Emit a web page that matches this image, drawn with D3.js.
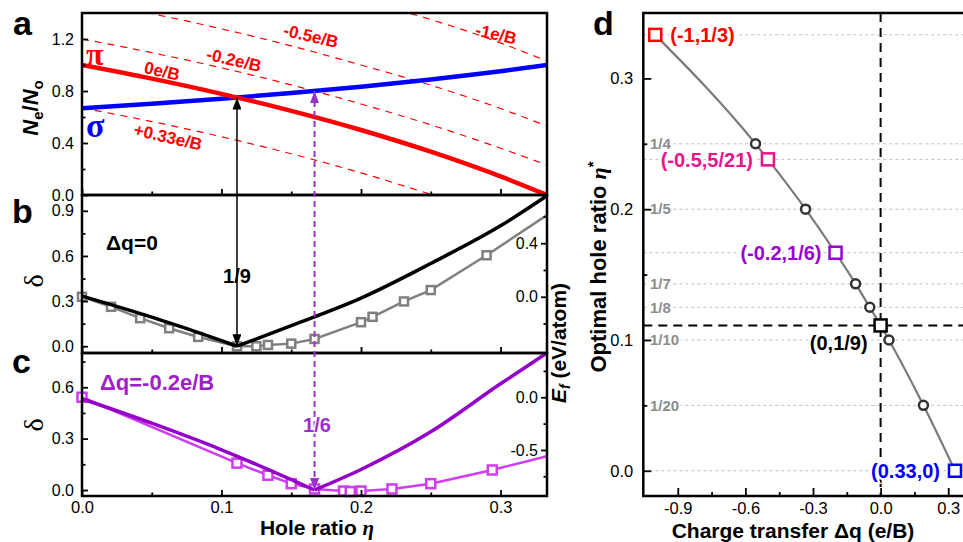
<!DOCTYPE html>
<html>
<head>
<meta charset="utf-8">
<script src="https://cdn.jsdelivr.net/npm/d3@7"></script>
<style>
  body { margin: 0; background: #fff; }
  svg { font-family: "Liberation Sans", Arial, sans-serif; }
  .tick text { fill: #000; }
</style>
</head>
<body>
<svg id="fig" width="963" height="542"></svg>
<script>
const svg = d3.select('#fig');

// ---- panel a: electrons per orbital vs hole ratio
const eta = [0, 0.05, 0.1, 0.15, 0.2, 0.25, 0.3, 0.3333];
const piCount = [1.0, 0.895, 0.778, 0.647, 0.5, 0.333, 0.143, 0.0];
const sigmaCount = [0.667, 0.702, 0.741, 0.784, 0.833, 0.889, 0.952, 1.0];
const piShiftM1 = [2.0, 1.895, 1.778, 1.647, 1.5, 1.35, 1.17, 1.03];
const piShiftM05 = [1.5, 1.395, 1.278, 1.147, 1.0, 0.845, 0.665, 0.53];
const piShiftM02 = [1.2, 1.095, 0.978, 0.847, 0.7, 0.54, 0.36, 0.23];
const piShiftP033 = [0.67, 0.565, 0.448, 0.317, 0.17, 0.005];

// ---- panel b: dq = 0
const etaB = [0, 0.05, 0.1, 0.1111, 0.15, 0.2, 0.25, 0.3, 0.3333];
const deltaB = [0.333, 0.193, 0.037, 0, 0.137, 0.32, 0.55, 0.8, 1.0];
const efEtaB = [0, 0.0208, 0.0417, 0.0625, 0.0833, 0.1111, 0.125, 0.1333, 0.15, 0.1667, 0.2, 0.2083, 0.2308, 0.25, 0.29, 0.3333];
const efB = [0.0, -0.075, -0.16, -0.235, -0.30, -0.37, -0.37, -0.36, -0.35, -0.315, -0.19, -0.15, -0.035, 0.05, 0.31, 0.61];

// ---- panel c: dq = -0.2 e/B
const etaC = [0, 0.05, 0.1, 0.1667, 0.2, 0.25, 0.3, 0.3333];
const deltaC = [0.533, 0.39, 0.235, 0, 0.12, 0.34, 0.62, 0.8];
const efEtaC = [0, 0.1111, 0.1333, 0.15, 0.1667, 0.1875, 0.1923, 0.2, 0.2222, 0.25, 0.2941, 0.3333];
const efC = [0.0, -0.625, -0.74, -0.82, -0.87, -0.89, -0.895, -0.89, -0.87, -0.82, -0.69, -0.56];

// ---- panel d: optimal hole ratio vs charge transfer
const keyDq = [-1, -0.5, -0.2, 0, 0.33];
const keyEta = [0.3333, 0.2381, 0.1667, 0.1111, 0];
const keyLabels = ['(-1,1/3)', '(-0.5,5/21)', '(-0.2,1/6)', '(0,1/9)', '(0.33,0)'];
const keyColors = ['#ff0000', '#e8148c', '#9b00d3', '#000000', '#0000ff'];
const otherDq = [-0.555, -0.333, -0.111, -0.048, 0.037, 0.19];
const otherEta = [0.25, 0.2, 0.1429, 0.125, 0.1, 0.05];
const gridEta = [0.3333, 0.25, 0.2381, 0.2, 0.1667, 0.1429, 0.125, 0.1, 0.05, 0];
const gridTags = ['1/4', '1/5', '1/7', '1/8', '1/10', '1/20'];
const gridTagEta = [0.25, 0.2, 0.1429, 0.125, 0.1, 0.05];

const num = (d) => d.toFixed(1);

// scales for the stacked left panels
const x = d3.scaleLinear().domain([0, 1 / 3]).range([82, 547]);
const yA = d3.scaleLinear().domain([0, 1.4]).range([195, 13]);
const yB = d3.scaleLinear().domain([-0.045, 1.005]).range([353, 195]);
const eB = d3.scaleLinear().domain([-0.42, 0.76]).range([353, 195]);
const yC = d3.scaleLinear().domain([-0.035, 0.8]).range([496, 353]);
const eC = d3.scaleLinear().domain([-0.937, 0.42]).range([496, 353]);

// panel d scales
const xD = d3.scaleLinear().domain([-1.053, 0.37]).range([643.3, 964]);
const yD = d3.scaleLinear().domain([-0.0193, 0.35]).range([496, 13]);

const defs = svg.append('defs');
defs.append('clipPath').attr('id', 'clipA')
  .append('rect').attr('x', 82).attr('y', 13).attr('width', 465).attr('height', 182);

function arrowHead(id, color) {
  defs.append('marker').attr('id', id)
    .attr('viewBox', '0 0 12 9').attr('refX', 12).attr('refY', 4.5)
    .attr('markerWidth', 12).attr('markerHeight', 9)
    .attr('markerUnits', 'userSpaceOnUse').attr('orient', 'auto-start-reverse')
    .append('path').attr('d', 'M0,0 L12,4.5 L0,9 Z').attr('fill', color);
}
arrowHead('ahK', '#000');
arrowHead('ahP', '#9932cc');

const zip = (a, b) => a.map((v, i) => [v, b[i]]);

function drawLine(g, xs, ys, sx, sy, color, width, dash, curve) {
  g.append('path')
    .datum(zip(xs, ys))
    .attr('fill', 'none')
    .attr('stroke', color)
    .attr('stroke-width', width)
    .attr('stroke-dasharray', dash)
    .attr('d', d3.line().x((d) => sx(d[0])).y((d) => sy(d[1])).curve(curve || d3.curveMonotoneX));
}

// V-shaped delta curve: draw both arms so the kink stays sharp
function drawVee(g, xs, ys, sx, sy, color, width) {
  const k = ys.indexOf(0);
  drawLine(g, xs.slice(0, k + 1), ys.slice(0, k + 1), sx, sy, color, width);
  drawLine(g, xs.slice(k), ys.slice(k), sx, sy, color, width);
}

function squares(g, xs, ys, sx, sy, color, size, width) {
  g.selectAll(null).data(zip(xs, ys)).join('rect')
    .attr('x', (d) => sx(d[0]) - size / 2).attr('y', (d) => sy(d[1]) - size / 2)
    .attr('width', size).attr('height', size)
    .attr('fill', '#fff').attr('stroke', color).attr('stroke-width', width);
}

function axisStyle(g, size) {
  g.select('.domain').remove();
  g.selectAll('.tick line').attr('stroke', '#000').attr('stroke-width', 1.8);
  g.selectAll('.tick text').style('font-size', size + 'px');
}

function leftAxis(scale, major, minor, xPos, labels) {
  const g = svg.append('g').attr('transform', `translate(${xPos},0)`)
    .call(d3.axisLeft(scale).tickValues(major).tickSize(-6).tickPadding(8).tickFormat(labels ? num : ''));
  axisStyle(g, 16);
  const m = svg.append('g').attr('transform', `translate(${xPos},0)`)
    .call(d3.axisLeft(scale).tickValues(minor).tickSize(-3.5).tickFormat(''));
  axisStyle(m, 16);
}

function bottomAxis(yPos, labels) {
  const g = svg.append('g').attr('transform', `translate(0,${yPos})`)
    .call(d3.axisBottom(x).tickValues([0, 0.1, 0.2, 0.3]).tickSize(-6).tickPadding(5).tickFormat(labels ? num : ''));
  axisStyle(g, 16.5);
  const m = svg.append('g').attr('transform', `translate(0,${yPos})`)
    .call(d3.axisBottom(x).tickValues([0.05, 0.15, 0.25]).tickSize(-3.5).tickFormat(''));
  axisStyle(m, 16.5);
}

// right E_f axes, ticks and labels inside the frame
function rightAxis(scale, major, minor) {
  const g = svg.append('g').attr('transform', 'translate(547,0)')
    .call(d3.axisLeft(scale).tickValues(major).tickSize(6).tickPadding(3).tickFormat(num));
  axisStyle(g, 16);
  const m = svg.append('g').attr('transform', 'translate(547,0)')
    .call(d3.axisLeft(scale).tickValues(minor).tickSize(3.5).tickFormat(''));
  axisStyle(m, 16);
}

// ================= panel a =================
const gA = svg.append('g').attr('clip-path', 'url(#clipA)');
[piShiftM1, piShiftM05, piShiftM02].forEach((s) =>
  drawLine(gA, eta, s, x, yA, '#ff0000', 1.2, '7,6'));
drawLine(gA, eta.slice(0, piShiftP033.length), piShiftP033, x, yA, '#ff0000', 1.2, '7,6');
drawLine(gA, eta, sigmaCount, x, yA, '#0000ff', 4.5);
drawLine(gA, eta, piCount, x, yA, '#ff0000', 4.5);

const redTag = (t, cx, cy) => svg.append('text')
  .attr('transform', `translate(${cx},${cy}) rotate(13)`)
  .attr('text-anchor', 'middle').attr('dy', '0.35em')
  .style('font-size', '17px').style('font-weight', 'bold').attr('fill', '#ff0000').text(t);
redTag('0e/B', 162, 71);
redTag('-0.2e/B', 234, 60);
redTag('-0.5e/B', 311, 36);
redTag('-1e/B', 496, 34);
redTag('+0.33e/B', 168, 137);

svg.append('text').attr('x', 86).attr('y', 65).attr('fill', '#ff0000')
  .style('font-family', '"Liberation Serif", serif').style('font-size', '32px').style('font-weight', 'bold').text('π');
svg.append('text').attr('x', 86).attr('y', 137).attr('fill', '#0000ff')
  .style('font-family', '"Liberation Serif", serif').style('font-size', '34px').style('font-weight', 'bold').text('σ');

leftAxis(yA, [0, 0.4, 0.8, 1.2], [0.2, 0.6, 1.0], 82, true);
bottomAxis(195, false);

const labA = svg.append('text').attr('transform', 'translate(38,108) rotate(-90)')
  .attr('text-anchor', 'middle').style('font-size', '22px').style('font-weight', 'bold');
labA.append('tspan').style('font-style', 'italic').text('N');
labA.append('tspan').attr('dy', 5).style('font-size', '15px').text('e');
labA.append('tspan').attr('dy', -5).text('/');
labA.append('tspan').style('font-style', 'italic').text('N');
labA.append('tspan').attr('dy', 5).style('font-size', '15px').text('o');

// ================= panel b =================
const gB = svg.append('g');
drawLine(gB, efEtaB, efB, x, eB, '#808080', 2.5, null, d3.curveLinear);
squares(gB, efEtaB.slice(0, -1), efB.slice(0, -1), x, eB, '#808080', 8, 2.5);
drawVee(gB, etaB, deltaB, x, yB, '#000', 3.5);

leftAxis(yB, [0, 0.3, 0.6, 0.9], [0.15, 0.45, 0.75], 82, true);
bottomAxis(353, false);
rightAxis(eB, [0, 0.4], [-0.2, 0.2, 0.6]);

svg.append('text').attr('transform', 'translate(43,281) rotate(-90)')
  .attr('text-anchor', 'middle').style('font-family', '"Liberation Serif", serif')
  .style('font-size', '28px').text('δ');
svg.append('text').attr('x', 106).attr('y', 250)
  .style('font-size', '21px').style('font-weight', 'bold').text('Δq=0');

// ================= panel c =================
const gC = svg.append('g');
drawLine(gC, efEtaC, efC, x, eC, '#d03cf0', 2.5, null, d3.curveLinear);
squares(gC, efEtaC.slice(0, -1), efC.slice(0, -1), x, eC, '#d03cf0', 9, 2.5);
drawVee(gC, etaC, deltaC, x, yC, '#9400c8', 3.5);

leftAxis(yC, [0, 0.3, 0.6], [0.15, 0.45, 0.75], 82, true);
bottomAxis(496, true);
rightAxis(eC, [-0.5, 0], [-0.75, -0.25, 0.25]);

svg.append('text').attr('transform', 'translate(43,425) rotate(-90)')
  .attr('text-anchor', 'middle').style('font-family', '"Liberation Serif", serif')
  .style('font-size', '28px').text('δ');
svg.append('text').attr('x', 100).attr('y', 390).attr('fill', '#a020c8')
  .style('font-size', '22px').style('font-weight', 'bold').text('Δq=-0.2e/B');

// frames of the left stack
[[13, 195], [195, 353], [353, 496]].forEach(([t, b]) =>
  svg.append('rect').attr('x', 82).attr('y', t).attr('width', 465).attr('height', b - t)
    .attr('fill', 'none').attr('stroke', '#000').attr('stroke-width', 2.5));

// arrows linking the panels
svg.append('line')
  .attr('x1', x(0.1111)).attr('x2', x(0.1111))
  .attr('y1', yA(0.75)).attr('y2', yB(0))
  .attr('stroke', '#000').attr('stroke-width', 1.5)
  .attr('marker-start', 'url(#ahK)').attr('marker-end', 'url(#ahK)');
svg.append('text').attr('x', 237).attr('y', 283).attr('text-anchor', 'middle')
  .style('font-size', '20px').style('font-weight', 'bold').text('1/9');

svg.append('line')
  .attr('x1', x(0.1667)).attr('x2', x(0.1667))
  .attr('y1', yA(0.8)).attr('y2', yC(0))
  .attr('stroke', '#9932cc').attr('stroke-width', 2).attr('stroke-dasharray', '6,4')
  .attr('marker-start', 'url(#ahP)').attr('marker-end', 'url(#ahP)');
svg.append('text').attr('x', 317).attr('y', 432).attr('text-anchor', 'middle').attr('fill', '#9932cc')
  .attr('stroke', '#fff').attr('stroke-width', 3).attr('paint-order', 'stroke')
  .style('font-size', '20px').style('font-weight', 'bold').text('1/6');

// shared right title
const labE = svg.append('text').attr('transform', 'translate(566,343) rotate(-90)')
  .attr('text-anchor', 'middle').style('font-size', '21px').style('font-weight', 'bold');
labE.append('tspan').style('font-style', 'italic').text('E');
labE.append('tspan').attr('dy', 4).style('font-size', '14px').style('font-style', 'italic').text('f');
labE.append('tspan').attr('dy', -4).text(' (eV/atom)');

const labX = svg.append('text').attr('x', 317).attr('y', 535).attr('text-anchor', 'middle')
  .style('font-size', '21px').style('font-weight', 'bold');
labX.append('tspan').text('Hole ratio ');
labX.append('tspan').style('font-style', 'italic').style('font-family', '"Liberation Serif", serif').text('η');

// panel letters
[['a', 13, 35], ['b', 12, 223], ['c', 12, 373], ['d', 593, 35]].forEach(([t, lx, ly]) =>
  svg.append('text').attr('x', lx).attr('y', ly).style('font-size', '34px').style('font-weight', 'bold').text(t));

// ================= panel d =================
const gD = svg.append('g');
gD.selectAll(null).data(gridEta).join('line')
  .attr('x1', xD.range()[0]).attr('x2', 963)
  .attr('y1', (d) => yD(d)).attr('y2', (d) => yD(d))
  .attr('stroke', '#c0c0c0').attr('stroke-width', 1).attr('stroke-dasharray', '3,3');

gD.append('line').attr('x1', xD(0)).attr('x2', xD(0)).attr('y1', 13).attr('y2', 496)
  .attr('stroke', '#000').attr('stroke-width', 2).attr('stroke-dasharray', '9,6');
gD.append('line').attr('x1', xD.range()[0]).attr('x2', 963).attr('y1', yD(0.1111)).attr('y2', yD(0.1111))
  .attr('stroke', '#000').attr('stroke-width', 2).attr('stroke-dasharray', '9,6');

gD.selectAll(null).data(gridTags).join('text')
  .attr('x', 650).attr('y', (d, i) => yD(gridTagEta[i])).attr('dy', '0.35em')
  .attr('fill', '#8c8c8c').style('font-size', '15px').style('font-weight', 'bold')
  .attr('stroke', '#fff').attr('stroke-width', 4).attr('paint-order', 'stroke')
  .text((d) => d);

const curvePts = zip(keyDq.concat(otherDq), keyEta.concat(otherEta)).sort((a, b) => a[0] - b[0]);
gD.append('path').datum(curvePts)
  .attr('fill', 'none').attr('stroke', '#7a7a7a').attr('stroke-width', 2.2)
  .attr('d', d3.line().x((d) => xD(d[0])).y((d) => yD(d[1])).curve(d3.curveMonotoneX));

gD.selectAll(null).data(zip(otherDq, otherEta)).join('circle')
  .attr('cx', (d) => xD(d[0])).attr('cy', (d) => yD(d[1])).attr('r', 4.5)
  .attr('fill', '#fff').attr('stroke', '#333').attr('stroke-width', 2.5);

gD.selectAll(null).data(zip(keyDq, keyEta)).join('rect')
  .attr('x', (d) => xD(d[0]) - 6).attr('y', (d) => yD(d[1]) - 6)
  .attr('width', 12).attr('height', 12)
  .attr('fill', '#fff').attr('stroke', (d, i) => keyColors[i]).attr('stroke-width', 2.5);

// label offsets next to each key point
const keyDx = [15, -15, -14, -13, -15];
const keyDy = [7, 8, 7, 25, 7];
gD.selectAll(null).data(keyLabels).join('text')
  .attr('x', (d, i) => xD(keyDq[i]) + keyDx[i])
  .attr('y', (d, i) => yD(keyEta[i]) + keyDy[i])
  .attr('text-anchor', (d, i) => (i === 0 ? 'start' : 'end'))
  .attr('fill', (d, i) => keyColors[i])
  .style('font-size', '20px').style('font-weight', 'bold')
  .attr('stroke', '#fff').attr('stroke-width', 4).attr('paint-order', 'stroke')
  .text((d) => d);

const dxMaj = svg.append('g').attr('transform', 'translate(0,496)')
  .call(d3.axisBottom(xD).tickValues([-0.9, -0.6, -0.3, 0, 0.3]).tickSize(-8).tickPadding(6).tickFormat(num));
axisStyle(dxMaj, 16.5);
const dxMin = svg.append('g').attr('transform', 'translate(0,496)')
  .call(d3.axisBottom(xD).tickValues([-0.75, -0.45, -0.15, 0.15]).tickSize(-4).tickFormat(''));
axisStyle(dxMin, 16.5);
const dyMaj = svg.append('g').attr('transform', `translate(${xD.range()[0]},0)`)
  .call(d3.axisLeft(yD).tickValues([0, 0.1, 0.2, 0.3]).tickSize(-8).tickPadding(10).tickFormat(num));
axisStyle(dyMaj, 16.5);
const dyMin = svg.append('g').attr('transform', `translate(${xD.range()[0]},0)`)
  .call(d3.axisLeft(yD).tickValues([0.05, 0.15, 0.25]).tickSize(-4).tickFormat(''));
axisStyle(dyMin, 16.5);

svg.append('rect').attr('x', xD.range()[0]).attr('y', 13).attr('width', 340).attr('height', 483)
  .attr('fill', 'none').attr('stroke', '#000').attr('stroke-width', 2.5);

const labYD = svg.append('text').attr('transform', 'translate(606,267) rotate(-90)')
  .attr('text-anchor', 'middle').style('font-size', '22px').style('font-weight', 'bold');
labYD.append('tspan').text('Optimal hole ratio ');
labYD.append('tspan').style('font-style', 'italic').style('font-family', '"Liberation Serif", serif').text('η');
labYD.append('tspan').attr('dy', -8).style('font-size', '15px').text('*');

svg.append('text').attr('x', 793).attr('y', 538).attr('text-anchor', 'middle')
  .style('font-size', '21px').style('font-weight', 'bold').text('Charge transfer Δq (e/B)');
</script>
</body>
</html>
